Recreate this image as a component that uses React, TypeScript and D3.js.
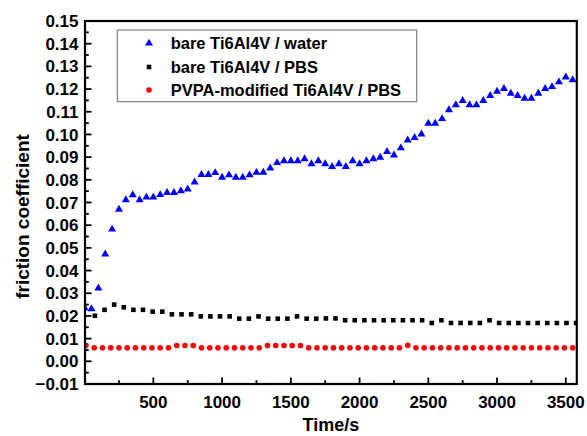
import React from "react";
import * as d3 from "d3";

const blueTime = [0, 50, 100, 150, 200, 250, 300, 350, 400, 450, 500, 550, 600, 650, 700, 750, 800, 850, 900, 950, 1000, 1050, 1100, 1150, 1200, 1250, 1300, 1350, 1400, 1450, 1500, 1550, 1600, 1650, 1700, 1750, 1800, 1850, 1900, 1950, 2000, 2050, 2100, 2150, 2200, 2250, 2300, 2350, 2400, 2450, 2500, 2550, 2600, 2650, 2700, 2750, 2800, 2850, 2900, 2950, 3000, 3050, 3100, 3150, 3200, 3250, 3300, 3350, 3400, 3450, 3500, 3550];
const blueValues = [0.0235, 0.0231, 0.0322, 0.0472, 0.0582, 0.067, 0.0711, 0.0733, 0.0711, 0.0723, 0.0723, 0.0734, 0.0743, 0.0743, 0.0751, 0.0759, 0.079, 0.0823, 0.0823, 0.0831, 0.0811, 0.0821, 0.0811, 0.0811, 0.0821, 0.0832, 0.0833, 0.0851, 0.0875, 0.0883, 0.0883, 0.0883, 0.0892, 0.087, 0.0883, 0.087, 0.0858, 0.087, 0.0858, 0.0883, 0.087, 0.0883, 0.0892, 0.0899, 0.0924, 0.0909, 0.094, 0.0975, 0.0986, 0.1001, 0.1049, 0.1049, 0.1069, 0.1108, 0.113, 0.1149, 0.113, 0.113, 0.1149, 0.1171, 0.119, 0.1202, 0.1181, 0.1171, 0.1159, 0.1159, 0.1181, 0.1202, 0.121, 0.1231, 0.1252, 0.124];

const blackTime = [75, 145, 215, 285, 355, 425, 495, 565, 635, 705, 775, 845, 915, 985, 1055, 1125, 1195, 1265, 1335, 1405, 1475, 1545, 1615, 1685, 1755, 1825, 1895, 1965, 2035, 2105, 2175, 2245, 2315, 2385, 2455, 2525, 2595, 2665, 2735, 2805, 2875, 2945, 3015, 3085, 3155, 3225, 3295, 3365, 3435, 3505, 3575];
const blackValues = [0.0201, 0.0227, 0.025, 0.0238, 0.0227, 0.0227, 0.0219, 0.0219, 0.0207, 0.0207, 0.0207, 0.0198, 0.0198, 0.0198, 0.0198, 0.0188, 0.0188, 0.0198, 0.0188, 0.0188, 0.0188, 0.0198, 0.0188, 0.0188, 0.0189, 0.0189, 0.0181, 0.0181, 0.0181, 0.0181, 0.0181, 0.0181, 0.0181, 0.0181, 0.0181, 0.0169, 0.0181, 0.0169, 0.0169, 0.0169, 0.0169, 0.0181, 0.0169, 0.0169, 0.0169, 0.0169, 0.0169, 0.0169, 0.0169, 0.0169, 0.0169];

const redTime = [10, 70, 130, 190, 250, 310, 370, 430, 490, 550, 610, 670, 730, 790, 850, 910, 970, 1030, 1090, 1150, 1210, 1270, 1330, 1390, 1450, 1510, 1570, 1630, 1690, 1750, 1810, 1870, 1930, 1990, 2050, 2110, 2170, 2230, 2290, 2350, 2410, 2470, 2530, 2590, 2650, 2710, 2770, 2830, 2890, 2950, 3010, 3070, 3130, 3190, 3250, 3310, 3370, 3430, 3490, 3550];
const redValues = [0.0071, 0.006, 0.006, 0.006, 0.006, 0.006, 0.006, 0.006, 0.006, 0.006, 0.006, 0.007, 0.007, 0.007, 0.006, 0.006, 0.006, 0.006, 0.006, 0.006, 0.006, 0.006, 0.007, 0.007, 0.007, 0.007, 0.007, 0.006, 0.006, 0.006, 0.006, 0.006, 0.006, 0.006, 0.006, 0.006, 0.006, 0.006, 0.006, 0.0071, 0.006, 0.006, 0.006, 0.006, 0.006, 0.006, 0.006, 0.006, 0.006, 0.006, 0.006, 0.006, 0.006, 0.006, 0.006, 0.006, 0.006, 0.006, 0.006, 0.006];

const seriesNames = ["bare Ti6Al4V / water", "bare Ti6Al4V / PBS", "PVPA-modified Ti6Al4V / PBS"];
const xMajorTicks = [500, 1000, 1500, 2000, 2500, 3000, 3500];
const xMinorTicks = [250, 750, 1250, 1750, 2250, 2750, 3250];
const yMajorTicks = [-0.01, 0, 0.01, 0.02, 0.03, 0.04, 0.05, 0.06, 0.07, 0.08, 0.09, 0.1, 0.11, 0.12, 0.13, 0.14, 0.15];
const yMinorTicks = [-0.005, 0.005, 0.015, 0.025, 0.035, 0.045, 0.055, 0.065, 0.075, 0.085, 0.095, 0.105, 0.115, 0.125, 0.135, 0.145];

const FONT = "'Liberation Sans', Arial, sans-serif";

export default function App() {
  const W = 587, H = 436;
  const left = 85, right = 576.8, top = 21, bottom = 384;
  const x = d3.scaleLinear().domain([0, 3580]).range([84.6, 576.8]);
  const y = d3.scaleLinear().domain([-0.01, 0.15]).range([bottom, top]);
  const fmt = d3.format(".2f");
  const tri = d3.symbol().type(d3.symbolTriangle).size(28)() as string;
  const sq = d3.symbol().type(d3.symbolSquare).size(21)() as string;

  const legendX = 149, legendText = 170.7;
  const legendRows = [43.3, 67, 90];

  return (
    <svg width={W} height={H} style={{ position: "absolute", left: 0, top: 0, background: "#fff" }} fontFamily={FONT}>
      <rect x={0} y={0} width={W} height={H} fill="#fff" />
      <defs>
        <clipPath id="plotclip">
          <rect x={left} y={top} width={right - left} height={bottom - top} />
        </clipPath>
      </defs>
      <g clipPath="url(#plotclip)">
        {redTime.map((t, i) => (
          <circle key={"r" + i} cx={x(t)} cy={y(redValues[i])} r={2.8} fill="#ff0000" />
        ))}
        {blackTime.map((t, i) => (
          <path key={"k" + i} d={sq} transform={`translate(${x(t)},${y(blackValues[i])})`} fill="#000" />
        ))}
        {blueTime.map((t, i) => (
          <path key={"b" + i} d={tri} transform={`translate(${x(t)},${y(blueValues[i])})`} fill="#0000ff" />
        ))}
      </g>
      {xMajorTicks.map((t) => (
        <line key={"xM" + t} x1={x(t)} x2={x(t)} y1={bottom} y2={bottom - 6.5} stroke="#000" strokeWidth={1.8} />
      ))}
      {xMinorTicks.map((t) => (
        <line key={"xm" + t} x1={x(t)} x2={x(t)} y1={bottom} y2={bottom - 3.8} stroke="#000" strokeWidth={1.8} />
      ))}
      {yMajorTicks.map((v) => (
        <line key={"yM" + v} x1={left} x2={left + 6.5} y1={y(v)} y2={y(v)} stroke="#000" strokeWidth={1.8} />
      ))}
      {yMinorTicks.map((v) => (
        <line key={"ym" + v} x1={left} x2={left + 3.8} y1={y(v)} y2={y(v)} stroke="#000" strokeWidth={1.8} />
      ))}
      <rect x={left} y={top} width={right - left} height={bottom - top} fill="none" stroke="#000" strokeWidth={2.2} />
      {xMajorTicks.map((t) => (
        <text key={"xl" + t} x={x(t)} y={407.5} textAnchor="middle" fontSize={17} fontWeight="bold">{t}</text>
      ))}
      {yMajorTicks.map((v) => (
        <text key={"yl" + v} x={78.5} y={y(v)} dy="0.36em" textAnchor="end" fontSize={17} fontWeight="bold">{fmt(v)}</text>
      ))}
      <text x={(left + right) / 2} y={431} textAnchor="middle" fontSize={18} fontWeight="bold">Time/s</text>
      <text transform={`translate(28.5, ${(top + bottom) / 2 + 14}) rotate(-90)`} textAnchor="middle" fontSize={19} fontWeight="bold">friction coefficient</text>
      <rect x={117.3} y={30} width={299.4} height={71.7} fill="#fff" stroke="#808080" strokeWidth={1.2} />
      <path d={tri} transform={`translate(${legendX},${legendRows[0]})`} fill="#0000ff" />
      <path d={sq} transform={`translate(${legendX},${legendRows[1]})`} fill="#000" />
      <circle cx={legendX} cy={legendRows[2]} r={2.8} fill="#ff0000" />
      {seriesNames.map((n, i) => (
        <text key={n} x={legendText} y={legendRows[i]} dy="0.36em" fontSize={16.5} fontWeight="bold">{n}</text>
      ))}
    </svg>
  );
}
